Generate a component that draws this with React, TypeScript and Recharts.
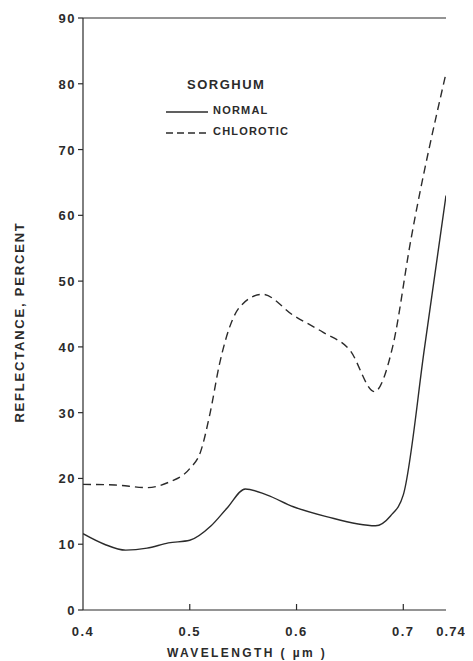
import { LineChart, Line, XAxis, YAxis, ReferenceLine } from 'recharts';

// wavelength (µm) / reflectance (%)
const normalWl = [0.4, 0.42, 0.44, 0.46, 0.48, 0.5, 0.52, 0.535, 0.552, 0.572, 0.597, 0.628, 0.674, 0.688, 0.7, 0.72, 0.74];
const normalR = [11.6, 10.0, 9.1, 9.4, 10.2, 10.6, 12.8, 15.5, 18.4, 17.5, 15.7, 14.2, 12.8, 14.3, 17.5, 40, 63];

const chloroticWl = [0.4, 0.43, 0.46, 0.48, 0.5, 0.51, 0.519, 0.528, 0.547, 0.568, 0.597, 0.625, 0.65, 0.673, 0.69, 0.707, 0.74];
const chloroticR = [19.1, 19.0, 18.6, 19.4, 21.5, 24.0, 29.9, 37.5, 46.1, 48.0, 44.8, 42.2, 39.5, 33.2, 40.0, 56.2, 81.6];

const xTicks = [0.4, 0.5, 0.6, 0.7, 0.74];
const yTicks = [0, 10, 20, 30, 40, 50, 60, 70, 80, 90];

const normalData = normalWl.map((w, i) => ({ w, r: normalR[i] }));
const chloroticData = chloroticWl.map((w, i) => ({ w, r: chloroticR[i] }));

const ink = '#2b2b2b';
const font = '"Liberation Sans", Arial, sans-serif';

const XTick = (props: any) => {
  const { x, y, payload } = props;
  const last = payload.value === 0.74;
  const edge = payload.value === 0.4 || last;
  return (
    <g>
      {!edge && <line x1={x} y1={y} x2={x} y2={y - 6} stroke={ink} strokeWidth={1.2} />}
      <text
        x={last ? x + 5 : x}
        y={y + 26}
        textAnchor="middle"
        fontSize={13}
        fontWeight="bold"
        letterSpacing={last ? 1 : 1.5}
        fill={ink}
        fontFamily={font}
      >
        {payload.value}
      </text>
    </g>
  );
};

const YTick = (props: any) => {
  const { x, y, payload } = props;
  return (
    <text
      x={x + 1}
      y={y + 5}
      textAnchor="end"
      fontSize={13}
      fontWeight="bold"
      letterSpacing={1.5}
      fill={ink}
      fontFamily={font}
    >
      {payload.value}
    </text>
  );
};

export default function App() {
  return (
    <div style={{ position: 'relative', width: 465, height: 653, fontFamily: font, color: ink }}>
      <LineChart
        width={465}
        height={653}
        margin={{ top: 10, right: 27, bottom: 0, left: 0 }}
        style={{ overflow: 'visible' }}
      >
        <XAxis
          type="number"
          dataKey="w"
          domain={[0.4, 0.74]}
          ticks={xTicks}
          allowDataOverflow
          height={51}
          tickLine={false}
          tickSize={0}
          tickMargin={0}
          axisLine={{ stroke: ink, strokeWidth: 1.2 }}
          tick={<XTick />}
        />
        <YAxis
          yAxisId="l"
          type="number"
          domain={[0, 90]}
          ticks={yTicks}
          width={75}
          tickSize={5}
          tickMargin={3}
          axisLine={{ stroke: ink, strokeWidth: 1.2 }}
          tickLine={{ stroke: ink, strokeWidth: 1.2 }}
          tick={<YTick />}
        />
        <YAxis
          yAxisId="r"
          orientation="right"
          type="number"
          domain={[0, 90]}
          ticks={yTicks.slice(1, -1)}
          width={0}
          mirror
          tickSize={6}
          axisLine={{ stroke: ink, strokeWidth: 1.2 }}
          tickLine={{ stroke: ink, strokeWidth: 1.2 }}
          tick={() => <g />}
        />
        <ReferenceLine yAxisId="l" y={90} stroke={ink} strokeWidth={1.2} />
        <Line
          yAxisId="l"
          data={normalData}
          dataKey="r"
          type="monotone"
          stroke={ink}
          strokeWidth={1.4}
          dot={false}
          isAnimationActive={false}
        />
        <Line
          yAxisId="l"
          data={chloroticData}
          dataKey="r"
          type="monotone"
          stroke={ink}
          strokeWidth={1.4}
          strokeDasharray="8 5"
          dot={false}
          isAnimationActive={false}
        />
      </LineChart>

      {/* legend block inside the plot */}
      <div style={{ position: 'absolute', left: 179, top: 69, fontSize: 13, fontWeight: 'bold', letterSpacing: 1.5 }}>
        SORGHUM
      </div>
      <svg style={{ position: 'absolute', left: 156, top: 98 }} width={48} height={32}>
        <line x1={2} y1={6} x2={44} y2={6} stroke={ink} strokeWidth={1.4} />
        <line x1={2} y1={27} x2={44} y2={27} stroke={ink} strokeWidth={1.4} strokeDasharray="7 4" />
      </svg>
      <div style={{ position: 'absolute', left: 205, top: 96, fontSize: 11, fontWeight: 'bold', letterSpacing: 1.2 }}>
        NORMAL
      </div>
      <div style={{ position: 'absolute', left: 205, top: 117, fontSize: 11, fontWeight: 'bold', letterSpacing: 1.2 }}>
        CHLOROTIC
      </div>

      {/* axis titles */}
      <div
        style={{
          position: 'absolute',
          left: 11,
          top: 314,
          transform: 'translate(-50%, -50%) rotate(-90deg)',
          whiteSpace: 'nowrap',
          fontSize: 13,
          fontWeight: 'bold',
          letterSpacing: 1.8,
        }}
      >
        REFLECTANCE, PERCENT
      </div>
      <div style={{ position: 'absolute', left: 159, top: 638, fontSize: 12, fontWeight: 'bold', letterSpacing: 2.4 }}>
        WAVELENGTH ( µm )
      </div>
    </div>
  );
}
